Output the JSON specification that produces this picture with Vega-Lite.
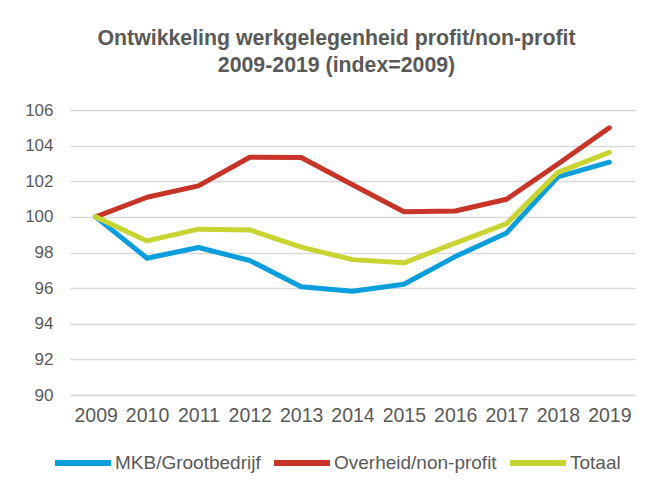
{
  "$schema": "https://vega.github.io/schema/vega-lite/v6.json",
  "width": 565,
  "height": 285,
  "autosize": {"type": "none"},
  "padding": {"left": 70, "top": 110, "right": 30, "bottom": 95},
  "background": "white",
  "title": {
    "text": ["Ontwikkeling werkgelegenheid profit/non-profit", "2009-2019 (index=2009)"],
    "font": "Liberation Sans",
    "fontSize": 21.3,
    "fontWeight": "bold",
    "color": "#595959",
    "lineHeight": 27,
    "anchor": "middle",
    "offset": 25,
    "dx": -16
  },
  "data": {
    "values": [
      {"jaar": "2009", "reeks": "MKB/Grootbedrijf", "index": 100},
      {"jaar": "2010", "reeks": "MKB/Grootbedrijf", "index": 97.68},
      {"jaar": "2011", "reeks": "MKB/Grootbedrijf", "index": 98.28},
      {"jaar": "2012", "reeks": "MKB/Grootbedrijf", "index": 97.55},
      {"jaar": "2013", "reeks": "MKB/Grootbedrijf", "index": 96.08},
      {"jaar": "2014", "reeks": "MKB/Grootbedrijf", "index": 95.82},
      {"jaar": "2015", "reeks": "MKB/Grootbedrijf", "index": 96.22},
      {"jaar": "2016", "reeks": "MKB/Grootbedrijf", "index": 97.77},
      {"jaar": "2017", "reeks": "MKB/Grootbedrijf", "index": 99.1},
      {"jaar": "2018", "reeks": "MKB/Grootbedrijf", "index": 102.25},
      {"jaar": "2019", "reeks": "MKB/Grootbedrijf", "index": 103.07},
      {"jaar": "2009", "reeks": "Overheid/non-profit", "index": 100},
      {"jaar": "2010", "reeks": "Overheid/non-profit", "index": 101.1},
      {"jaar": "2011", "reeks": "Overheid/non-profit", "index": 101.74},
      {"jaar": "2012", "reeks": "Overheid/non-profit", "index": 103.35},
      {"jaar": "2013", "reeks": "Overheid/non-profit", "index": 103.33},
      {"jaar": "2014", "reeks": "Overheid/non-profit", "index": 101.8},
      {"jaar": "2015", "reeks": "Overheid/non-profit", "index": 100.29},
      {"jaar": "2016", "reeks": "Overheid/non-profit", "index": 100.33},
      {"jaar": "2017", "reeks": "Overheid/non-profit", "index": 100.99},
      {"jaar": "2018", "reeks": "Overheid/non-profit", "index": 102.97},
      {"jaar": "2019", "reeks": "Overheid/non-profit", "index": 105.0},
      {"jaar": "2009", "reeks": "Totaal", "index": 100},
      {"jaar": "2010", "reeks": "Totaal", "index": 98.65},
      {"jaar": "2011", "reeks": "Totaal", "index": 99.31},
      {"jaar": "2012", "reeks": "Totaal", "index": 99.27},
      {"jaar": "2013", "reeks": "Totaal", "index": 98.3},
      {"jaar": "2014", "reeks": "Totaal", "index": 97.6},
      {"jaar": "2015", "reeks": "Totaal", "index": 97.42},
      {"jaar": "2016", "reeks": "Totaal", "index": 98.53},
      {"jaar": "2017", "reeks": "Totaal", "index": 99.62},
      {"jaar": "2018", "reeks": "Totaal", "index": 102.5},
      {"jaar": "2019", "reeks": "Totaal", "index": 103.62}
    ]
  },
  "mark": {"type": "line", "strokeWidth": 5, "strokeCap": "round", "strokeJoin": "round"},
  "encoding": {
    "x": {
      "field": "jaar",
      "type": "ordinal",
      "scale": {"type": "point", "padding": 0.5},
      "axis": {
        "title": null,
        "labelAngle": 0,
        "labelFont": "Liberation Sans",
        "labelFontSize": 19.5,
        "labelColor": "#595959",
        "labelPadding": 11,
        "ticks": false,
        "domainColor": "#D9D9D9",
        "domainWidth": 1.5,
        "grid": false
      }
    },
    "y": {
      "field": "index",
      "type": "quantitative",
      "scale": {"domain": [90, 106], "nice": false, "zero": false},
      "axis": {
        "title": null,
        "values": [90, 92, 94, 96, 98, 100, 102, 104, 106],
        "labelFont": "Liberation Sans",
        "labelFontSize": 17,
        "labelColor": "#595959",
        "labelPadding": 17,
        "ticks": false,
        "domain": false,
        "grid": true,
        "gridColor": "#D9D9D9",
        "gridWidth": 1.5
      }
    },
    "color": {
      "field": "reeks",
      "type": "nominal",
      "scale": {
        "domain": ["MKB/Grootbedrijf", "Overheid/non-profit", "Totaal"],
        "range": ["#0A9FDC", "#C73428", "#C8D432"]
      },
      "legend": {
        "title": null,
        "orient": "none",
        "legendX": -18,
        "legendY": 322,
        "direction": "horizontal",
        "symbolType": "stroke",
        "symbolSize": 3136,
        "symbolStrokeWidth": 6,
        "labelFont": "Liberation Sans",
        "labelFontSize": 19,
        "labelColor": "#595959",
        "labelOffset": 1,
        "labelLimit": 300,
        "columnPadding": 1
      }
    }
  },
  "config": {"view": {"stroke": null}}
}
